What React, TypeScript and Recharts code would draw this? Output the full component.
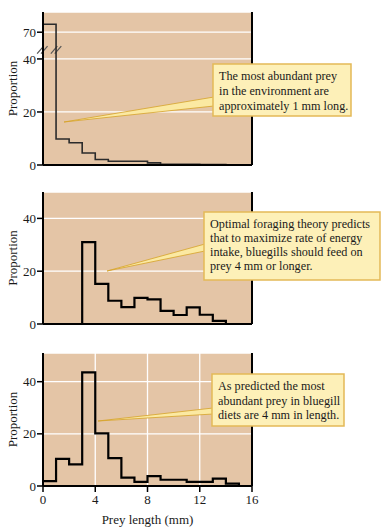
import { LineChart, Line, XAxis, YAxis, CartesianGrid, ReferenceLine } from 'recharts';

// bin edges along the x axis (mm)
const PREY_LENGTH_MM = [0, 1, 2, 3, 4, 5, 6, 7, 8, 9, 10, 11, 12, 13, 14, 15, 16];
const X_TICKS = [0, 4, 8, 12, 16];

// proportion per 1 mm bin (0-1, 1-2, ... 15-16)
const ENVIRONMENT = [79, 9.8, 8.4, 4.5, 2.1, 1.4, 1.4, 1.4, 0.8, 0.3, 0.3, 0.3, 0.2, 0.2, 0.1, 0.1];
const PREDICTED = [0, 0, 0, 31, 15.2, 8.8, 6.4, 9.9, 9.3, 5.0, 3.4, 6.3, 3.5, 1.2, 0, 0];
const OBSERVED = [1.9, 10.4, 8.3, 43.6, 20.2, 10.7, 3.2, 1.6, 3.8, 2.4, 2.4, 1.6, 1.6, 2.8, 0.9, 0];

const TOP_TICKS = [0, 20, 40, 70];
const Y_TICKS = [0, 20, 40];

const NOTE_ENV = ['The most abundant prey', 'in the environment are', 'approximately 1 mm long.'];
const NOTE_PRED = [
  'Optimal foraging theory predicts',
  'that to maximize rate of energy',
  'intake, bluegills should feed on',
  'prey 4 mm or longer.',
];
const NOTE_OBS = ['As predicted the most', 'abundant prey in bluegill', 'diets are 4 mm in length.'];

// broken axis on the top panel: above 40 the scale is squeezed
const BREAK_AT = 40;
const BREAK_RATIO = 0.336;
const brk = (v: number) => (v <= BREAK_AT ? v : BREAK_AT + (v - BREAK_AT) * BREAK_RATIO);
const unbrk = (t: number) => (t <= BREAK_AT ? t : BREAK_AT + (t - BREAK_AT) / BREAK_RATIO);

const FONT = "'Liberation Serif', 'DejaVu Serif', serif";
const PLOT_BG = '#e4c5a6';
const INK = '#1a1a1a';

const toRows = (values: number[], map = (v: number) => v) =>
  PREY_LENGTH_MM.map((x, i) => ({ x, v: map(values[Math.min(i, values.length - 1)]) }));

const tickStyle = { fill: INK, fontSize: 13, fontFamily: FONT };

interface PanelProps {
  rows: { x: number; v: number }[];
  top: number;
  height: number;
  marginTop: number;
  xAxisHeight: number;
  yMax: number;
  yTicks: number[];
  yFormat?: (t: number) => string;
  stroke: string;
  strokeWidth: number;
  showXLabels?: boolean;
  children?: React.ReactNode;
}

function Panel(p: PanelProps) {
  return (
    <div style={{ position: 'absolute', left: 0, top: p.top }}>
      <LineChart
        width={386}
        height={p.height}
        data={p.rows}
        margin={{ top: p.marginTop, right: 134, bottom: 0, left: 0 }}
      >
        <CartesianGrid fill={PLOT_BG} fillOpacity={1} stroke="#fff" strokeWidth={1.3} />
        <XAxis
          dataKey="x"
          type="number"
          domain={[0, 16]}
          ticks={X_TICKS}
          height={p.xAxisHeight}
          tick={p.showXLabels ? tickStyle : false}
          tickSize={6}
          tickMargin={3}
          axisLine={{ stroke: '#000', strokeWidth: 2 }}
          tickLine={{ stroke: '#000', strokeWidth: 1.5 }}
          label={
            p.showXLabels
              ? { value: 'Prey length (mm)', position: 'insideBottom', offset: 7, fill: INK, fontSize: 13, fontFamily: FONT }
              : undefined
          }
        />
        <YAxis
          type="number"
          width={43}
          domain={[0, p.yMax]}
          ticks={p.yTicks}
          tickFormatter={p.yFormat}
          tick={tickStyle}
          tickSize={6}
          tickMargin={1}
          interval={0}
          axisLine={{ stroke: '#000', strokeWidth: 2 }}
          tickLine={{ stroke: '#000', strokeWidth: 1.5 }}
          label={{ value: 'Proportion', angle: -90, position: 'center', dx: -9, fill: INK, fontSize: 13, fontFamily: FONT }}
        />
        <ReferenceLine x={16} stroke="#000" strokeWidth={2} />
        {p.children}
        <Line
          type="stepAfter"
          dataKey="v"
          stroke={p.stroke}
          strokeWidth={p.strokeWidth}
          dot={false}
          isAnimationActive={false}
        />
      </LineChart>
    </div>
  );
}

// two short parallel slashes around an x position, at the break height
function slashes(cx: number) {
  const y = 43.4;
  return [-0.15, 0.15].map((d, i) => (
    <ReferenceLine
      key={`${cx}-${i}`}
      segment={[
        { x: cx + d - 0.25, y: y - 1.4 },
        { x: cx + d + 0.25, y: y + 1.4 },
      ]}
      stroke="#555"
      strokeWidth={1.2}
      ifOverflow="visible"
    />
  ));
}

interface CalloutProps {
  x: number;
  y: number;
  w: number;
  h: number;
  tip: [number, number];
  baseY: [number, number];
  lines: string[];
  lineH: number;
  fontSize: number;
}

function Callout({ x, y, w, h, tip, baseY, lines, lineH, fontSize }: CalloutProps) {
  return (
    <g>
      <polygon
        points={`${tip[0]},${tip[1]} ${x + 1},${baseY[0]} ${x + 1},${baseY[1]}`}
        fill="#fbe9a2"
        stroke="#d6a22a"
        strokeWidth={0.8}
      />
      <rect x={x} y={y} width={w} height={h} fill="#fdf0b8" stroke="#e3b957" strokeWidth={1.5} />
      {lines.map((t, i) => (
        <text key={i} x={x + 6} y={y + 16 + i * lineH} fontSize={fontSize} fontFamily={FONT} fill={INK}>
          {t}
        </text>
      ))}
    </g>
  );
}

export default function App() {
  return (
    <div style={{ position: 'absolute', left: 0, top: 0, width: 386, height: 531, background: '#fff' }}>
      <Panel
        rows={toRows(ENVIRONMENT, brk)}
        top={0}
        height={180}
        marginTop={12}
        xAxisHeight={15}
        yMax={57.7}
        yTicks={TOP_TICKS.map(brk)}
        yFormat={(t) => String(Math.round(unbrk(t)))}
        stroke="#2b2b2b"
        strokeWidth={1.6}
      >
        {slashes(-0.05)}
        {slashes(1.0)}
      </Panel>
      <Panel
        rows={toRows(PREDICTED)}
        top={180}
        height={160}
        marginTop={12}
        xAxisHeight={16}
        yMax={50}
        yTicks={Y_TICKS}
        stroke="#000"
        strokeWidth={2.2}
      />
      <Panel
        rows={toRows(OBSERVED)}
        top={340}
        height={191}
        marginTop={13}
        xAxisHeight={45}
        yMax={51}
        yTicks={Y_TICKS}
        stroke="#000"
        strokeWidth={2.2}
        showXLabels
      />
      <svg width={386} height={531} style={{ position: 'absolute', left: 0, top: 0, pointerEvents: 'none' }}>
        <Callout x={213} y={64} w={138} h={52} tip={[64, 122]} baseY={[97, 106]} lines={NOTE_ENV} lineH={15} fontSize={12.2} />
        <Callout x={204} y={212} w={176} h={68} tip={[107, 271]} baseY={[244, 251]} lines={NOTE_PRED} lineH={14} fontSize={12.2} />
        <Callout x={212} y={374} w={132} h={52} tip={[98, 421]} baseY={[408, 414]} lines={NOTE_OBS} lineH={14.5} fontSize={12.2} />
      </svg>
    </div>
  );
}
